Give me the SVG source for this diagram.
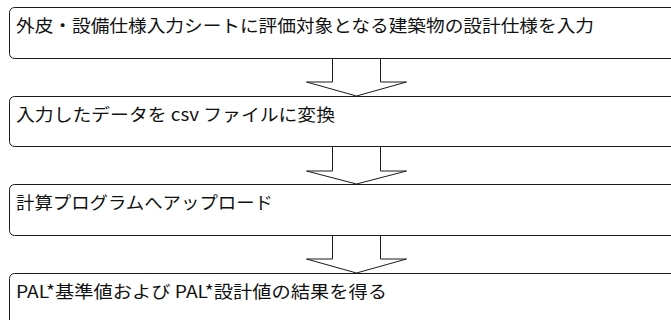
<svg xmlns="http://www.w3.org/2000/svg" width="671" height="320" viewBox="0 0 671 320">
<style>
.box{fill:#fff;stroke:#1a1a1a;stroke-width:1}
.arr{fill:#fff;stroke:#1a1a1a;stroke-width:1;stroke-linejoin:miter}
.t{font-family:"Noto Sans CJK JP","Noto Sans",sans-serif;font-size:17.5px;fill:#111}
</style>
<rect width="671" height="320" fill="#fff"/>
<g id="connectors">
<polygon class="arr" points="332.5,58 380.5,58 380.5,82 406.5,82 356.5,96 306.5,82 332.5,82"/>
<polygon class="arr" points="332.5,146 380.5,146 380.5,171 406.5,171 356.5,184 306.5,171 332.5,171"/>
<polygon class="arr" points="332.5,235 380.5,235 380.5,259 406.5,259 356.5,273 306.5,259 332.5,259"/>
</g>
<g id="step1">
<rect class="box" x="9.5" y="7.5" width="700" height="51" rx="5"/>
<text class="t" x="16" y="32" textLength="578" lengthAdjust="spacingAndGlyphs">外皮・設備仕様入力シートに評価対象となる建築物の設計仕様を入力</text>
</g>
<g id="step2">
<rect class="box" x="9.5" y="96.5" width="700" height="50" rx="5"/>
<text class="t" x="16" y="121" textLength="319" lengthAdjust="spacingAndGlyphs">入力したデータを csv ファイルに変換</text>
</g>
<g id="step3">
<rect class="box" x="9.5" y="184.5" width="700" height="51" rx="5"/>
<text class="t" x="16" y="209" textLength="257" lengthAdjust="spacingAndGlyphs">計算プログラムへアップロード</text>
</g>
<g id="step4">
<rect class="box" x="9.5" y="273.5" width="700" height="55" rx="5"/>
<text class="t" x="16" y="298" textLength="371" lengthAdjust="spacingAndGlyphs">PAL*基準値および PAL*設計値の結果を得る</text>
</g>
</svg>
